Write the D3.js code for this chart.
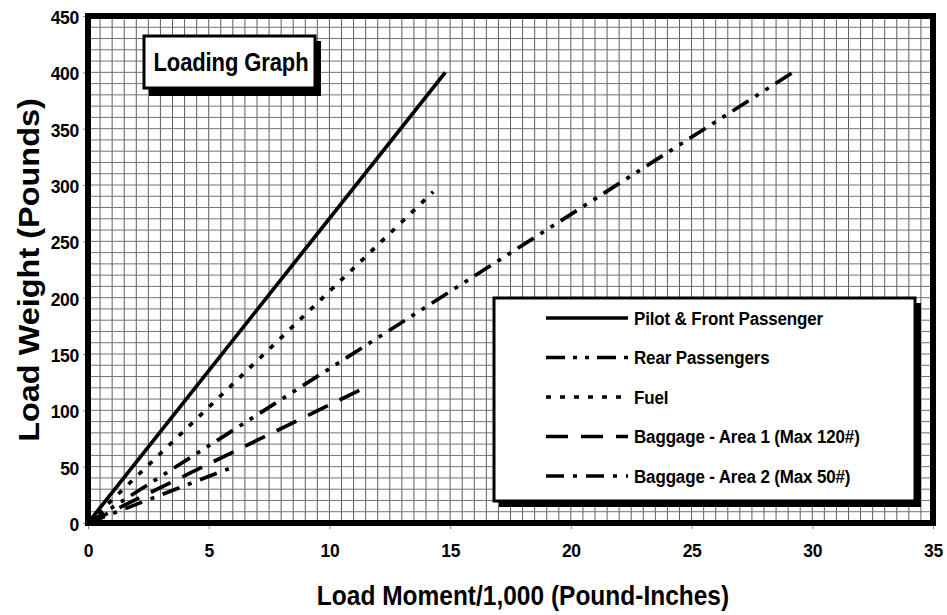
<!DOCTYPE html>
<html>
<head>
<meta charset="utf-8">
<script src="https://cdn.jsdelivr.net/npm/d3@7"></script>
<style>
  body { margin: 0; background: #fff; }
  text { font-family: "Liberation Sans", Arial, sans-serif; font-weight: bold; fill: #000; }
</style>
</head>
<body>
<svg id="chart"></svg>
<script>
// series names, end points (line starts at the origin)
const seriesNames = ['Pilot & Front Passenger', 'Rear Passengers', 'Fuel', 'Baggage - Area 1 (Max 120#)', 'Baggage - Area 2 (Max 50#)'];
const endMoment = [14.8, 29.2, 14.3, 11.45, 6.05];
const endWeight = [400, 400, 294, 120, 50];
const dashes = ['none', '19,8,4,8,4,8', '5,9', '22,13', '18,9,4,9'];

const xTicks = [0, 5, 10, 15, 20, 25, 30, 35];
const yTicks = [0, 50, 100, 150, 200, 250, 300, 350, 400, 450];

(() => {
  const width = 947, height = 615;
  const svg = d3.select('#chart').attr('width', width).attr('height', height);

  const x = d3.scaleLinear().domain([0, 35]).range([88, 933]);
  const y = d3.scaleLinear().domain([0, 450]).range([523, 16]);

  // grid
  const grid = svg.append('g');
  grid.selectAll('line.v')
    .data(d3.range(0, 35.01, 0.5))
    .enter().append('line')
    .attr('x1', d => x(d)).attr('x2', d => x(d))
    .attr('y1', y(450)).attr('y2', y(0))
    .attr('stroke', '#5e5e5e').attr('stroke-width', 1);
  grid.selectAll('line.h')
    .data(d3.range(0, 450.1, 10))
    .enter().append('line')
    .attr('y1', d => y(d)).attr('y2', d => y(d))
    .attr('x1', x(0)).attr('x2', x(35))
    .attr('stroke', '#737373').attr('stroke-width', 1);

  // axes (labels + little ticks)
  const xAxis = svg.append('g').attr('transform', `translate(0,${y(0)})`)
    .call(d3.axisBottom(x).tickValues(xTicks).tickSize(6).tickPadding(16));
  const yAxis = svg.append('g').attr('transform', `translate(${x(0)},0)`)
    .call(d3.axisLeft(y).tickValues(yTicks).tickSize(5).tickPadding(4));
  [xAxis, yAxis].forEach(a => {
    a.select('.domain').remove();
    a.selectAll('.tick line').attr('stroke', '#888');
    a.selectAll('text').attr('font-size', 17.5).attr('font-family', '"Liberation Sans", Arial, sans-serif')
      .attr('font-weight', 'bold').attr('fill', '#000').attr('letter-spacing', -0.3);
  });
  yAxis.selectAll('text').attr('dy', '0.42em');

  // title box
  const tb = svg.append('g');
  tb.append('rect').attr('x', 149).attr('y', 41).attr('width', 172).attr('height', 55).attr('fill', '#000');
  tb.append('rect').attr('x', 144).attr('y', 36).attr('width', 171).attr('height', 52)
    .attr('fill', '#fff').attr('stroke', '#000').attr('stroke-width', 3);
  tb.append('text').attr('transform', 'translate(231,71) scale(1,1.2)').attr('text-anchor', 'middle')
    .attr('font-size', 22).attr('letter-spacing', -0.1).text('Loading Graph');

  // series lines
  const line = d3.line().x(d => x(d[0])).y(d => y(d[1]));
  svg.append('g').selectAll('path')
    .data(seriesNames)
    .enter().append('path')
    .attr('d', (d, i) => line([[0, 0], [endMoment[i], endWeight[i]]]))
    .attr('fill', 'none').attr('stroke', '#000').attr('stroke-width', 3.7)
    .attr('stroke-dasharray', (d, i) => dashes[i]);

  // frame
  svg.append('rect').attr('x', x(0)).attr('y', y(450))
    .attr('width', x(35) - x(0)).attr('height', y(0) - y(450))
    .attr('fill', 'none').attr('stroke', '#000').attr('stroke-width', 6);

  // legend
  const lg = svg.append('g');
  lg.append('rect').attr('x', 499).attr('y', 303).attr('width', 422).attr('height', 204).attr('fill', '#000');
  lg.append('rect').attr('x', 494).attr('y', 298).attr('width', 421).attr('height', 203)
    .attr('fill', '#fff').attr('stroke', '#000').attr('stroke-width', 3);
  const rows = lg.selectAll('g.row').data(seriesNames).enter().append('g')
    .attr('transform', (d, i) => `translate(0,${318 + i * 39.5})`);
  rows.append('line').attr('x1', 546).attr('x2', 628).attr('y1', 0).attr('y2', 0)
    .attr('stroke', '#000').attr('stroke-width', 3.7)
    .attr('stroke-dasharray', (d, i) => dashes[i]);
  rows.append('text').attr('transform', 'translate(634,6.5) scale(1,1.12)').attr('font-size', 17)
    .attr('letter-spacing', -0.15).text(d => d);

  // axis titles
  svg.append('text').attr('transform', 'translate(523,605) scale(1,1.12)').attr('text-anchor', 'middle')
    .attr('font-size', 24.5).text('Load Moment/1,000 (Pound-Inches)');
  svg.append('text').attr('transform', 'translate(39,270) rotate(-90) scale(1.12,1)').attr('text-anchor', 'middle')
    .attr('font-size', 29).text('Load Weight (Pounds)');
})();
</script>
</body>
</html>
